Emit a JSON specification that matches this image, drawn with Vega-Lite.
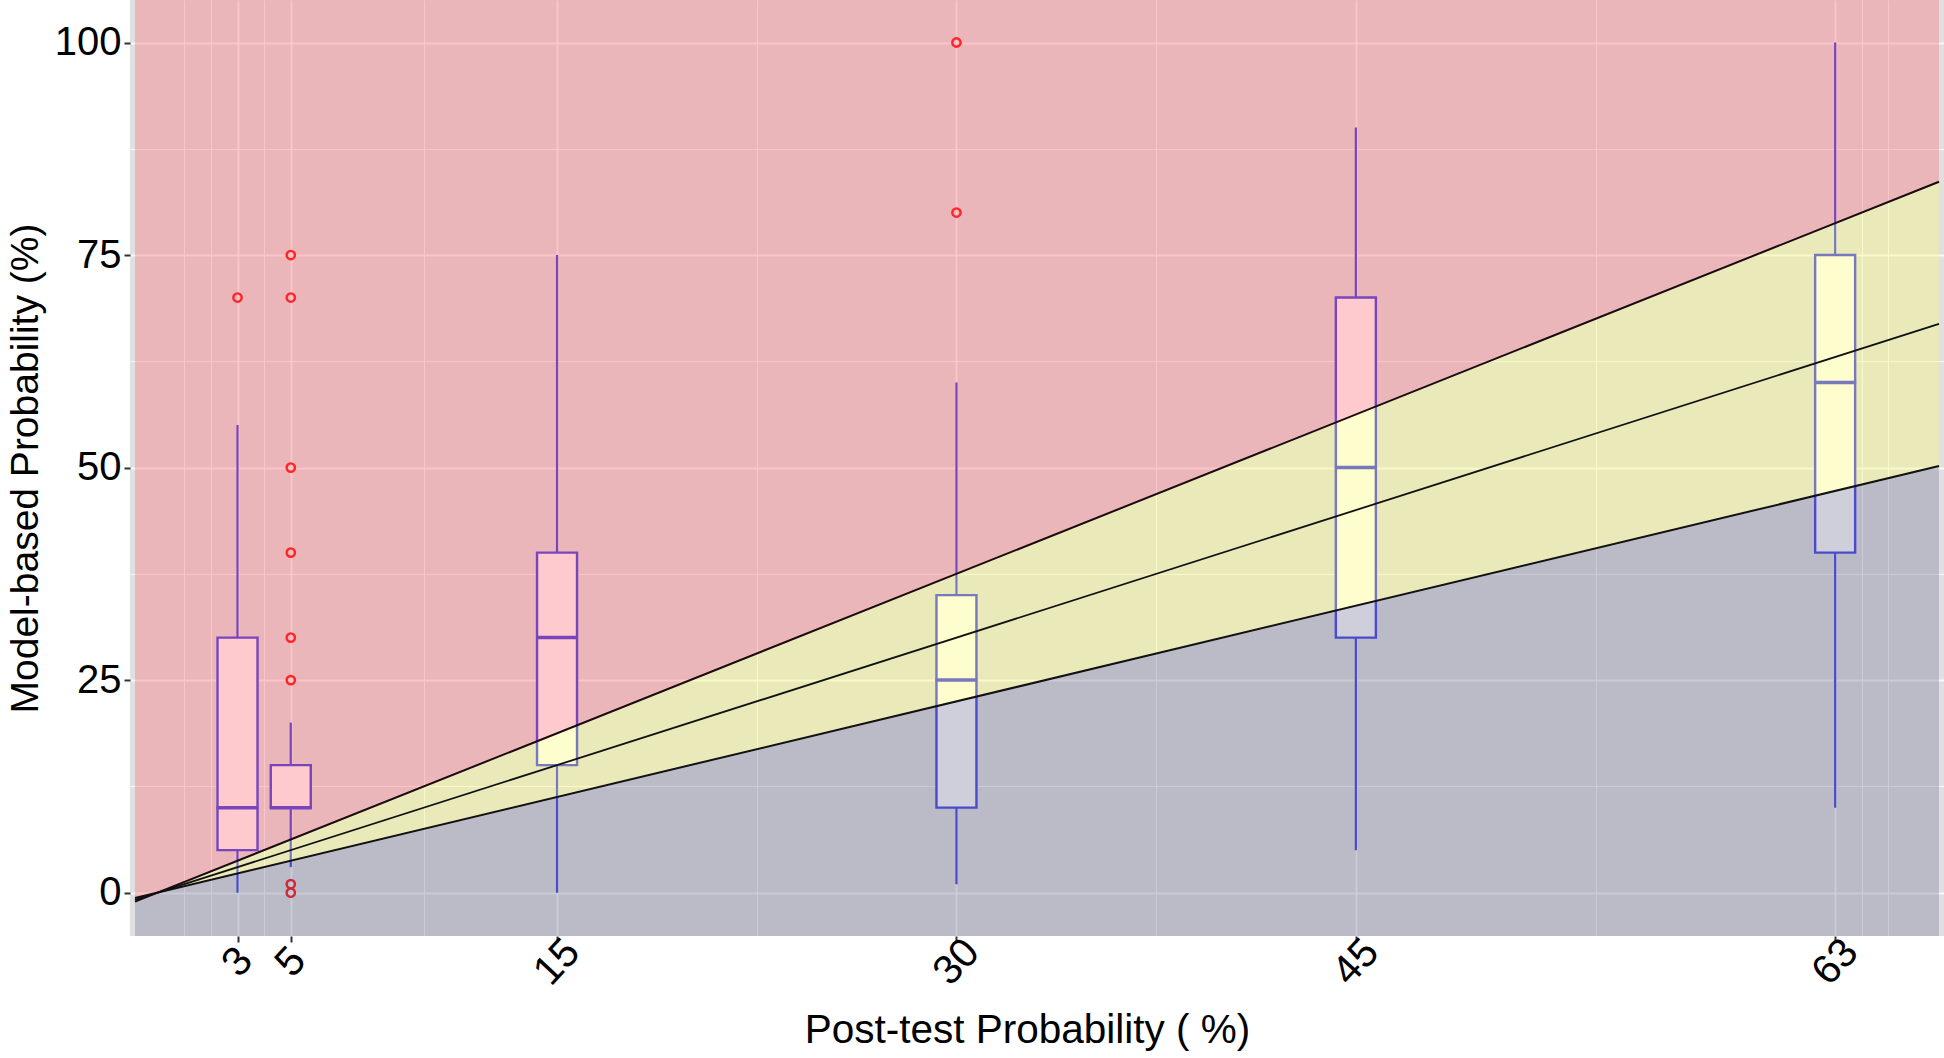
{
  "$schema": "https://vega.github.io/schema/vega-lite/v6.json",
  "width": 1814,
  "height": 936,
  "autosize": {"type": "none"},
  "padding": {"left": 130, "top": 0, "right": 0, "bottom": 122},
  "background": "white",
  "config": {
    "view": {"fill": "#E0E0E0", "stroke": null},
    "font": "Liberation Sans"
  },
  "datasets": {
    "boxes": [
      {"x": 3, "lo": 0, "q1": 5, "med": 10, "q3": 30, "hi": 55},
      {"x": 5, "lo": 3, "q1": 10, "med": 10, "q3": 15, "hi": 20},
      {"x": 15, "lo": 0, "q1": 15, "med": 30, "q3": 40, "hi": 75},
      {"x": 30, "lo": 1, "q1": 10, "med": 25, "q3": 35, "hi": 60},
      {"x": 45, "lo": 5, "q1": 30, "med": 50, "q3": 70, "hi": 90},
      {"x": 63, "lo": 10, "q1": 40, "med": 60, "q3": 75, "hi": 100}
    ],
    "outliers": [
      {"x": 3, "y": 70},
      {"x": 5, "y": 75},
      {"x": 5, "y": 70},
      {"x": 5, "y": 50},
      {"x": 5, "y": 40},
      {"x": 5, "y": 30},
      {"x": 5, "y": 25},
      {"x": 5, "y": 1},
      {"x": 5, "y": 0},
      {"x": 30, "y": 80},
      {"x": 30, "y": 100}
    ],
    "lines": [
      {"x": -0.85, "lo": -0.6375, "mid": -0.85, "hi": -1.0625},
      {"x": 66.9, "lo": 50.175, "mid": 66.9, "hi": 83.625}
    ]
  },
  "layer": [
    {
      "data": {"name": "boxes"},
      "mark": {"type": "rule", "color": "#3333E6", "strokeWidth": 2.2},
      "encoding": {
        "x": {
          "field": "x", "type": "quantitative",
          "scale": {"domain": [-0.85, 66.9], "nice": false, "zero": false},
          "axis": {
            "title": "Post-test Probability ( %)",
            "values": [1, 2, 3, 4, 5, 10, 15, 22.5, 30, 37.5, 45, 54, 63, 64, 65],
            "labelExpr": "indexof([3,5,15,30,45,63], datum.value) >= 0 ? datum.label : ''",
            "grid": true,
            "gridColor": "#FFFFFF",
            "gridWidth": {"condition": {"test": "indexof([3,5,15,30,45,63], datum.value) >= 0", "value": 2}, "value": 1},
            "gridOpacity": 0.8,
            "domain": false,
            "ticks": true,
            "tickColor": "#333333",
            "tickSize": 6,
            "tickWidth": 2,
            "tickOpacity": {"condition": {"test": "indexof([3,5,15,30,45,63], datum.value) >= 0", "value": 1}, "value": 0},
            "labelAngle": -47,
            "labelAlign": "center",
            "labelBaseline": "middle",
            "labelPadding": 20,
            "labelFontSize": 41,
            "labelColor": "#000000",
            "titleFontSize": 40.5,
            "titleFontWeight": "normal",
            "titleColor": "#000000",
            "titlePadding": 18,
            "titleX": 897
          }
        },
        "y": {
          "field": "lo", "type": "quantitative",
          "scale": {"domain": [-5.1, 105], "nice": false, "zero": false},
          "axis": {
            "title": "Model-based Probability (%)",
            "values": [0, 12.5, 25, 37.5, 50, 62.5, 75, 87.5, 100],
            "labelExpr": "datum.value % 25 == 0 ? datum.label : ''",
            "grid": true,
            "gridColor": "#FFFFFF",
            "gridWidth": {"condition": {"test": "datum.value % 25 == 0", "value": 2}, "value": 1},
            "gridOpacity": 0.8,
            "domain": false,
            "tickColor": "#333333",
            "tickSize": 6,
            "tickWidth": 2,
            "tickOpacity": {"condition": {"test": "datum.value % 25 == 0", "value": 1}, "value": 0},
            "labelPadding": 3,
            "labelFontSize": 40,
            "labelColor": "#000000",
            "titleFontSize": 39,
            "titleFontWeight": "normal",
            "titleColor": "#000000",
            "titlePadding": 9
          }
        },
        "y2": {"field": "hi"}
      }
    },
    {
      "data": {"name": "boxes"},
      "mark": {"type": "bar", "size": 40, "fill": "#FFFFFF", "stroke": "#3333E6", "strokeWidth": 2.4},
      "encoding": {
        "x": {"field": "x", "type": "quantitative"},
        "y": {"field": "q1", "type": "quantitative"},
        "y2": {"field": "q3"}
      }
    },
    {
      "data": {"name": "boxes"},
      "mark": {"type": "tick", "orient": "horizontal", "size": 42, "thickness": 3.5, "color": "#3333E6", "opacity": 1},
      "encoding": {
        "x": {"field": "x", "type": "quantitative"},
        "y": {"field": "med", "type": "quantitative"}
      }
    },
    {
      "data": {"name": "outliers"},
      "mark": {"type": "point", "shape": "circle", "filled": false, "color": "#FF0000", "size": 70, "strokeWidth": 2.4, "opacity": 1},
      "encoding": {
        "x": {"field": "x", "type": "quantitative"},
        "y": {"field": "y", "type": "quantitative"}
      }
    },
    {
      "data": {"name": "lines"},
      "mark": {"type": "area", "color": "#FD6871", "opacity": 0.35, "clip": true},
      "encoding": {
        "x": {"field": "x", "type": "quantitative"},
        "y": {"field": "hi", "type": "quantitative"},
        "y2": {"datum": 105}
      }
    },
    {
      "data": {"name": "lines"},
      "mark": {"type": "area", "color": "#FAFA71", "opacity": 0.35, "clip": true},
      "encoding": {
        "x": {"field": "x", "type": "quantitative"},
        "y": {"field": "lo", "type": "quantitative"},
        "y2": {"field": "hi"}
      }
    },
    {
      "data": {"name": "lines"},
      "mark": {"type": "area", "color": "#76769B", "opacity": 0.35, "clip": true},
      "encoding": {
        "x": {"field": "x", "type": "quantitative"},
        "y": {"field": "lo", "type": "quantitative"},
        "y2": {"datum": -5.1}
      }
    },
    {
      "data": {"name": "lines"},
      "mark": {"type": "line", "color": "#111111", "strokeWidth": 2, "clip": true},
      "encoding": {
        "x": {"field": "x", "type": "quantitative"},
        "y": {"field": "lo", "type": "quantitative"}
      }
    },
    {
      "data": {"name": "lines"},
      "mark": {"type": "line", "color": "#111111", "strokeWidth": 1.8, "clip": true},
      "encoding": {
        "x": {"field": "x", "type": "quantitative"},
        "y": {"field": "mid", "type": "quantitative"}
      }
    },
    {
      "data": {"name": "lines"},
      "mark": {"type": "line", "color": "#1A0A10", "strokeWidth": 2, "clip": true},
      "encoding": {
        "x": {"field": "x", "type": "quantitative"},
        "y": {"field": "hi", "type": "quantitative"}
      }
    }
  ]
}
